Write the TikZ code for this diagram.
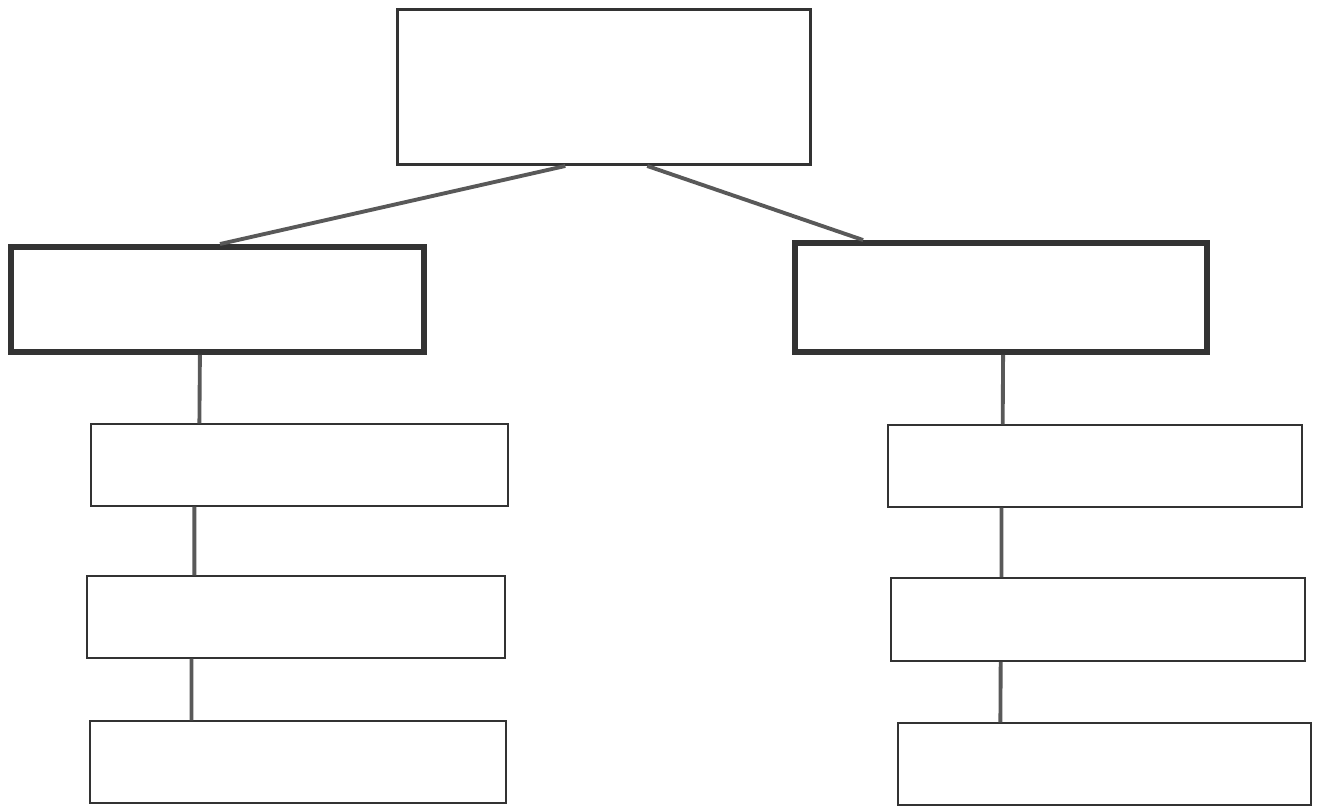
\documentclass[tikz,border=0pt]{standalone}
\usepackage{tikz}
\usetikzlibrary{calc}

\tikzset{
	box/.style={shape=rectangle,draw=black!80,line width=1.1pt,inner sep=0pt,minimum width=8.32cm,minimum height=1.63cm},
	topbox/.style={box,line width=1.7pt},
	midbox/.style={box,line width=3.4pt},
	link/.style={draw=black!65,line width=2.2pt},
}

\begin{document}
\begin{tikzpicture}[x=0.02cm,y=-0.02cm]
	\useasboundingbox (0,0) rectangle (1321,807);

	\node[topbox,minimum width=8.26cm,minimum height=3.1cm] (root) at (604,87) {};

	\node[midbox,minimum width=8.26cm,minimum height=2.1cm] (lmid) at (217.5,299.5) {};
	\node[midbox,minimum width=8.24cm,minimum height=2.18cm] (rmid) at (1001,297.5) {};

	\node[box,minimum width=8.34cm] (la) at (299.5,465) {};
	\node[box,minimum width=8.36cm] (lb) at (296,617) {};
	\node[box] (lc) at (298,762) {};

	\node[box,minimum width=8.28cm] (ra) at (1095,466) {};
	\node[box,minimum width=8.28cm,minimum height=1.66cm] (rb) at (1098,619.5) {};
	\node[box,minimum width=8.26cm] (rc) at (1104.5,764) {};

	\draw[link] ($(root.south west)!0.407!(root.south east)$) -- ($(lmid.north west)!0.506!(lmid.north east)$);
	\draw[link] ($(root.south west)!0.604!(root.south east)$) -- ($(rmid.north west)!0.17!(rmid.north east)$);

	\draw[link] ($(lmid.south west)!0.458!(lmid.south east)$) -- ($(la.north west)!0.261!(la.north east)$);
	\draw[link] ($(la.south west)!0.249!(la.south east)$) -- ($(lb.north west)!0.258!(lb.north east)$);
	\draw[link] ($(lb.south west)!0.251!(lb.south east)$) -- ($(lc.north west)!0.245!(lc.north east)$);

	\draw[link] ($(rmid.south west)!0.505!(rmid.south east)$) -- ($(ra.north west)!0.278!(ra.north east)$);
	\draw[link] ($(ra.south west)!0.275!(ra.south east)$) -- ($(rb.north west)!0.268!(rb.north east)$);
	\draw[link] ($(rb.south west)!0.266!(rb.south east)$) -- ($(rc.north west)!0.249!(rc.north east)$);
\end{tikzpicture}
\end{document}
